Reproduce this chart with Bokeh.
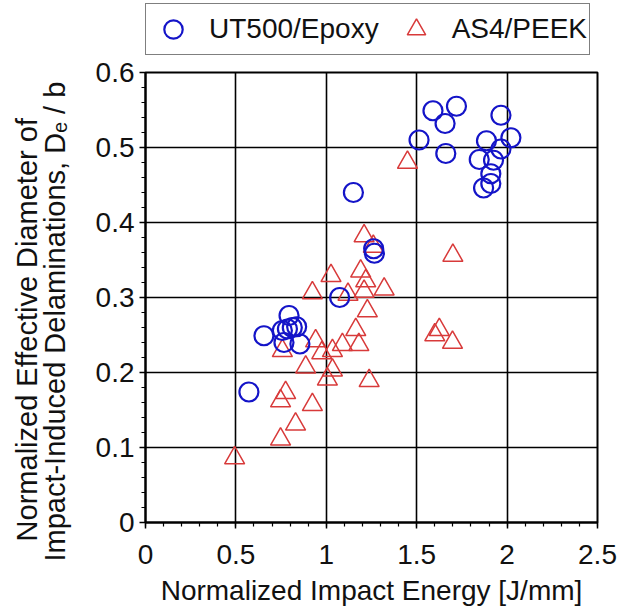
import numpy as np
from bokeh.plotting import figure
from bokeh.layouts import column
from bokeh.models import Legend, LegendItem, FixedTicker, Range1d, ColumnDataSource
from bokeh.embed import file_html
from bokeh.resources import INLINE

# ---- data ----
ut500_energy = [1.59, 1.72, 1.657, 1.966, 1.513, 1.886, 2.021, 1.966, 1.661, 1.846,
                1.925, 1.91, 1.91, 1.87, 1.15, 1.262, 1.266, 1.074,
                0.655, 0.757, 0.785, 0.794, 0.812, 0.836, 0.766, 0.854, 0.572]
ut500_diam = [0.549, 0.555, 0.532, 0.543, 0.510, 0.509, 0.513, 0.498, 0.492, 0.484,
              0.483, 0.465, 0.452, 0.446, 0.440, 0.365, 0.359, 0.300,
              0.249, 0.256, 0.258, 0.276, 0.260, 0.261, 0.240, 0.238, 0.174]

as4_energy = [0.493, 0.747, 0.83, 0.923, 0.747, 0.775, 1.237, 1.006, 1.034, 0.886,
              0.757, 0.975, 1.034, 1.089, 1.18, 0.941, 1.163, 1.227, 0.923, 1.12,
              1.209, 1.32, 1.218, 1.19, 1.026, 1.209, 1.26, 1.449, 1.70, 1.60,
              1.625, 1.698]
as4_diam = [0.086, 0.111, 0.131, 0.157, 0.162, 0.173, 0.189, 0.191, 0.203, 0.207,
            0.229, 0.226, 0.229, 0.237, 0.237, 0.242, 0.257, 0.282, 0.306, 0.304,
            0.308, 0.311, 0.322, 0.335, 0.329, 0.382, 0.368, 0.480, 0.356, 0.250,
            0.257, 0.240]

x_ticks = [0, 0.5, 1.0, 1.5, 2.0, 2.5]
x_tick_labels = ["0", "0.5", "1", "1.5", "2", "2.5"]
y_ticks = [0, 0.1, 0.2, 0.3, 0.4, 0.5, 0.6]
y_tick_labels = ["0", "0.1", "0.2", "0.3", "0.4", "0.5", "0.6"]

series_names = ["UT500/Epoxy", "AS4/PEEK"]
x_title = "Normalized Impact Energy [J/mm]"
y_title_lines = ["Normalized Effective Diameter of",
                 "Impact-Induced Delaminations, D\u2091 / b"]

NB = "\u00a0"
SANS = "Liberation Sans"
BLUE = "#1414c8"
RED = "#d83a3a"

W, H = 630, 610
L, R = 145, 33
FRAME_TOP, FRAME_BOTTOM = 72, 522
LG_H = 56                 # strip above the plot holding the legend
P_H = H - LG_H

# ---- main plot ----
p = figure(width=W, height=P_H, x_range=Range1d(0, 2.5), y_range=Range1d(0, 0.6),
           output_backend="svg", toolbar_location=None,
           min_border_left=L, min_border_right=R, min_border_top=FRAME_TOP - LG_H,
           min_border_bottom=H - FRAME_BOTTOM)
p.background_fill_color = "white"
p.border_fill_color = "white"
p.outline_line_color = "black"
p.outline_line_width = 2

x_minor = [round(v, 2) for v in np.arange(0, 2.501, 0.1)]
y_minor = [round(v, 3) for v in np.arange(0, 0.601, 0.02)]
p.xaxis.ticker = FixedTicker(ticks=x_ticks, minor_ticks=x_minor)
p.yaxis.ticker = FixedTicker(ticks=y_ticks, minor_ticks=y_minor)
p.xaxis.major_label_overrides = dict(zip(x_ticks, x_tick_labels))
p.yaxis.major_label_overrides = dict(zip(y_ticks, y_tick_labels))
p.xgrid.ticker = FixedTicker(ticks=x_ticks)
p.ygrid.ticker = FixedTicker(ticks=y_ticks)
for g in (p.xgrid, p.ygrid):
    g.grid_line_color = "black"
    g.grid_line_width = 1.6
for ax in (p.xaxis, p.yaxis):
    ax.axis_line_color = "black"
    ax.axis_line_width = 2
    ax.major_tick_in = 0
    ax.major_tick_out = 6
    ax.minor_tick_in = 0
    ax.minor_tick_out = 4
    ax.major_tick_line_color = "black"
    ax.minor_tick_line_color = "black"
    ax.major_tick_line_width = 1.5
    ax.minor_tick_line_width = 1.2
    ax.major_label_text_font = SANS
    ax.major_label_text_font_size = "28px"
    ax.major_label_text_color = "#111111"
    ax.axis_label_text_font = SANS
    ax.axis_label_text_font_style = "normal"
    ax.axis_label_text_color = "#111111"
p.xaxis.major_label_standoff = 16
p.yaxis.major_label_standoff = 5
p.xaxis.axis_label = x_title
p.xaxis.axis_label_text_font_size = "28px"
p.xaxis.axis_label_standoff = 8
p.yaxis.axis_label = (y_title_lines[0] + NB * 8) + "\n" + (y_title_lines[1] + NB * 6)
p.yaxis.axis_label_text_font_size = "29px"
p.yaxis.axis_label_text_line_height = 0.86
p.yaxis.axis_label_standoff = 22

src_u = ColumnDataSource(dict(x=ut500_energy, y=ut500_diam))
src_a = ColumnDataSource(dict(x=as4_energy, y=as4_diam))
r_a = p.scatter("x", "y", source=src_a, marker="triangle", size=20,
                fill_color=None, line_color=RED, line_width=1.5)
r_u = p.scatter("x", "y", source=src_u, marker="circle", size=19,
                fill_color=None, line_color=BLUE, line_width=2.2)

# ---- legend strip: key glyphs share the data sources, but lie outside its range ----
lg = figure(width=W, height=LG_H, x_range=Range1d(-10, -9), y_range=Range1d(0, LG_H),
            output_backend="svg", toolbar_location=None,
            x_axis_location=None, y_axis_location=None,
            min_border_left=L, min_border_right=R, min_border_top=0, min_border_bottom=0)
lg.outline_line_color = None
lg.grid.visible = False
lg.background_fill_color = "white"
lg.border_fill_color = "white"
k_u = lg.scatter("x", "y", source=src_u, marker="circle", size=19,
                 fill_color=None, line_color=BLUE, line_width=2.2)
k_a = lg.scatter("x", "y", source=src_a, marker="triangle", size=20,
                 fill_color=None, line_color=RED, line_width=1.5)
legend = Legend(items=[LegendItem(label=series_names[0], renderers=[k_u]),
                       LegendItem(label=series_names[1], renderers=[k_a])],
                orientation="horizontal", location=(0, 1),
                glyph_width=50, glyph_height=46, padding=2, label_standoff=11,
                spacing=12, border_line_color="black", border_line_width=1.5,
                label_text_font=SANS, label_text_font_size="28px",
                label_text_color="#111111", background_fill_alpha=1.0)
lg.add_layout(legend)

layout = column(lg, p, spacing=0)
open("out.html", "w").write(file_html(layout, INLINE))
